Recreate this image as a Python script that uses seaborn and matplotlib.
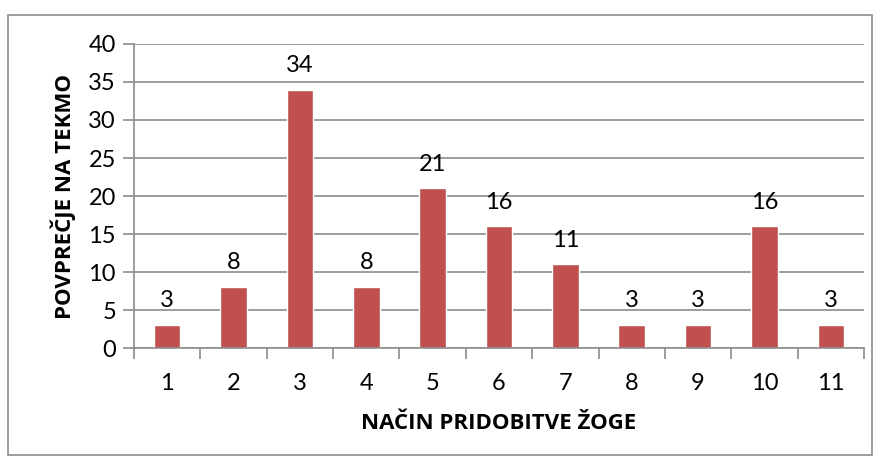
import matplotlib
matplotlib.use("Agg")
import matplotlib.pyplot as plt
import seaborn as sns
import pandas as pd
from matplotlib.patches import Rectangle

categories = ["1", "2", "3", "4", "5", "6", "7", "8", "9", "10", "11"]
values = [3, 8, 34, 8, 21, 16, 11, 3, 3, 16, 3]
y_ticks = [0, 5, 10, 15, 20, 25, 30, 35, 40]
x_label = "NAČIN PRIDOBITVE ŽOGE"
y_label = "POVPREČJE NA TEKMO"

sns.set_theme(style="white")
plt.rcParams['font.family'] = ['Lato', 'DejaVu Sans']

df = pd.DataFrame({"cat": categories, "val": values})

fig = plt.figure(figsize=(8.81, 4.61), dpi=100)
ax = fig.add_axes([134/881, 1-348/461, (864-134)/881, (348-44)/461])

sns.barplot(data=df, x="cat", y="val", color="#C0504D", width=0.4, ax=ax,
            saturation=1, order=categories)

ax.set_xlim(-0.5, len(categories) - 0.5)
ax.set_ylim(0, 40)
ax.set_yticks(y_ticks)
ax.yaxis.grid(True, color="#8C8C8C", linewidth=1.2)
ax.set_axisbelow(True)

gray = "#8C8C8C"
for s in ["top", "right"]:
    ax.spines[s].set_visible(False)
for s in ["left", "bottom"]:
    ax.spines[s].set_color(gray)
    ax.spines[s].set_linewidth(1.2)

ax.tick_params(axis="y", which="major", length=8, width=1.2, color=gray,
               direction="out", left=True, labelsize=17, pad=5, labelcolor="black")
ax.set_xticks(range(len(categories)))
ax.set_xticklabels(categories)
ax.set_xticks([i - 0.5 for i in range(len(categories) + 1)], minor=True)
ax.tick_params(axis="x", which="major", length=0, labelsize=17, pad=18, labelcolor="black")
ax.tick_params(axis="x", which="minor", length=8, width=1.2, color=gray,
               direction="out", bottom=True)

for i, v in enumerate(values):
    ax.annotate(str(v), (i, v), xytext=(0, 10), textcoords="offset points",
                ha="center", va="bottom", fontsize=17, color="black")

lab_font = dict(family=["Open Sans", "DejaVu Sans"], fontsize=16, fontweight="bold", color="black")
ax.set_xlabel(x_label, labelpad=14, **lab_font)
ax.set_ylabel(y_label, labelpad=9, **lab_font)

fig.patches.append(Rectangle((8/881, 1-455/461), (872-8)/881, (455-15)/461,
                             transform=fig.transFigure, fill=False,
                             edgecolor="#8C8C8C", linewidth=1.2))

fig.savefig("out.png", dpi=100)
